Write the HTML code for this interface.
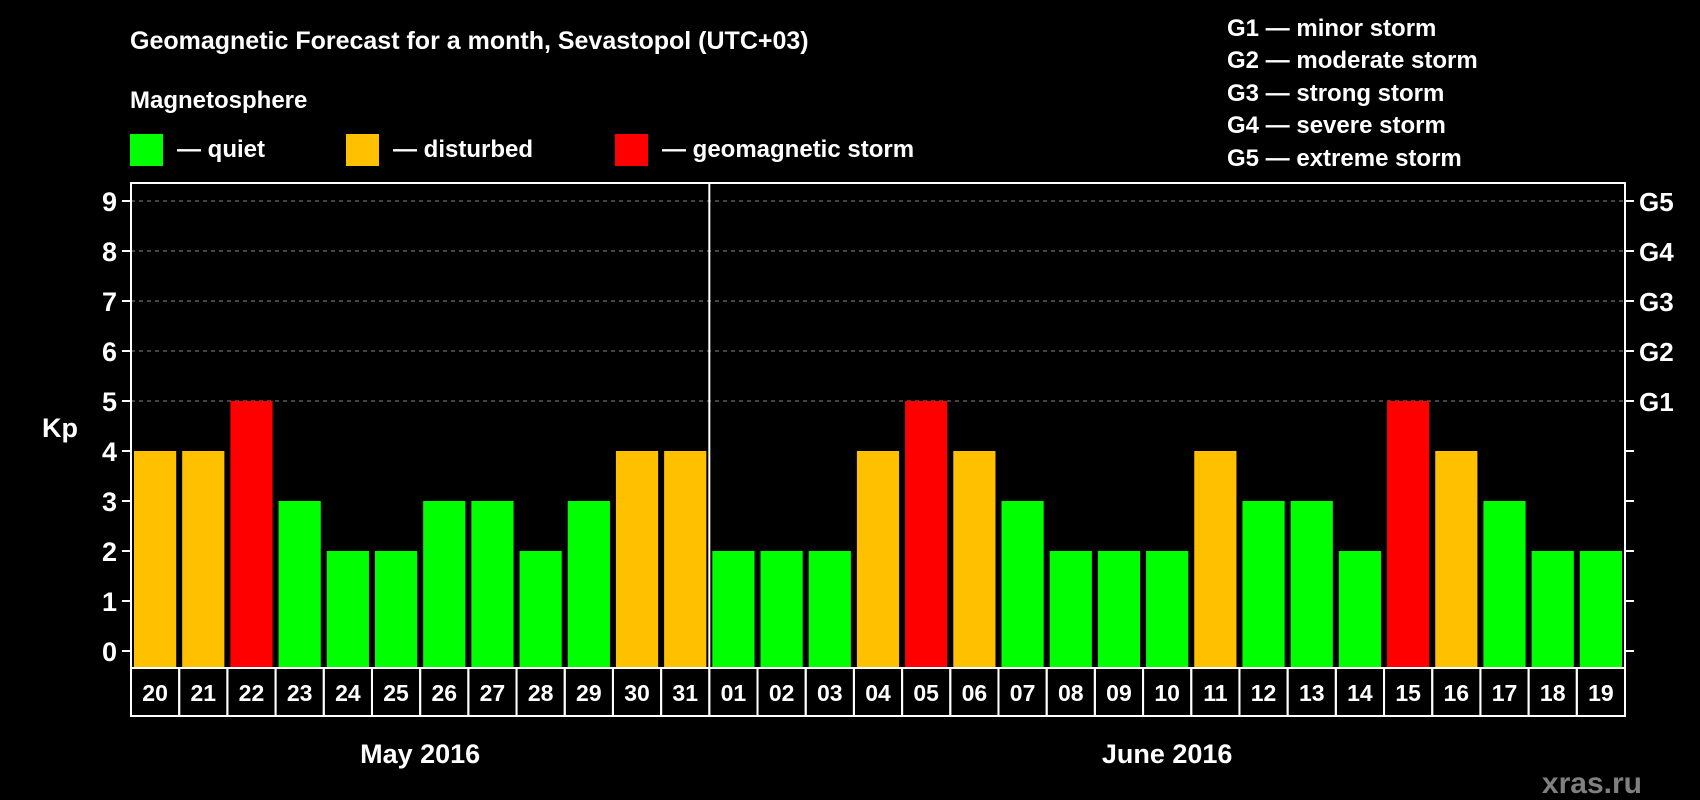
<!DOCTYPE html>
<html><head><meta charset="utf-8"><style>
html,body{margin:0;padding:0;background:#000;width:1700px;height:800px;overflow:hidden}
svg text{font-family:"Liberation Sans",Arial,sans-serif;font-weight:bold;fill:#fff}
</style></head><body>
<svg id="c" width="1700" height="800" xmlns="http://www.w3.org/2000/svg">
<text x="130" y="49" font-size="25">Geomagnetic Forecast for a month, Sevastopol (UTC+03)</text>
<text x="130" y="108" font-size="24">Magnetosphere</text>
<g><rect x="130" y="134" width="33" height="32" fill="#00ff00"/><text x="177" y="157" font-size="24">— quiet</text></g>
<g><rect x="346" y="134" width="33" height="32" fill="#ffc000"/><text x="393" y="157" font-size="24">— disturbed</text></g>
<g><rect x="615" y="134" width="33" height="32" fill="#ff0000"/><text x="662" y="157" font-size="24">— geomagnetic storm</text></g>
<g font-size="24">
<text x="1227" y="36">G1 — minor storm</text>
<text x="1227" y="68">G2 — moderate storm</text>
<text x="1227" y="101">G3 — strong storm</text>
<text x="1227" y="133">G4 — severe storm</text>
<text x="1227" y="166">G5 — extreme storm</text>
</g>
<text x="1642" y="793" font-size="30" fill="#808080" style="fill:#808080" text-anchor="end">xras.ru</text>
<g id="plot"></g>
</svg>
<script>
const days=["20","21","22","23","24","25","26","27","28","29","30","31","01","02","03","04","05","06","07","08","09","10","11","12","13","14","15","16","17","18","19"];
const kp=[4,4,5,3,2,2,3,3,2,3,4,4,2,2,2,4,5,4,3,2,2,2,4,3,3,2,5,4,3,2,2];
const yTicks=[0,1,2,3,4,5,6,7,8,9];
const gLabels=["G1","G2","G3","G4","G5"];
const months=["May 2016","June 2016"];
const monthDays=[12,19];
const L=131,R=1625,T=183,B=668,Y0=651,UNIT=50;
const slot=(R-L)/days.length;
const y=v=>Y0-v*UNIT;
const x=i=>L+i*slot;
const NS="http://www.w3.org/2000/svg";
const g=document.getElementById('plot');
function mk(t,a){const e=document.createElementNS(NS,t);for(const k in a)e.setAttribute(k,a[k]);g.appendChild(e);return e;}
yTicks.forEach(v=>{
  if(v>=5){const l=mk('line',{x1:L,x2:R,y1:y(v),y2:y(v),stroke:'#888','stroke-dasharray':'4,4','stroke-width':1});
  
  }
  const t1=mk('line',{x1:L-9,x2:L,y1:y(v),y2:y(v),stroke:'#fff','stroke-width':2});
  
  
  const t2=mk('line',{x1:R,x2:R+9,y1:y(v),y2:y(v),stroke:'#fff','stroke-width':2});
  
  
  const tx=mk('text',{x:L-14,y:y(v)+10,'font-size':27,'text-anchor':'end'});tx.textContent=v;
  
  
});
gLabels.forEach((s,i)=>{const t=mk('text',{x:R+14,y:y(5+i)+10,'font-size':26});t.textContent=s;
  
  });
const kpT=mk('text',{x:42,y:437,'font-size':27});kpT.textContent='Kp';


kp.forEach((v,i)=>{
  const c=v>=5?'#ff0000':v>=4?'#ffc000':'#00ff00';
  const r=mk('rect',{x:x(i)+3,y:y(v),width:slot-6,height:B-y(v),fill:c});
  
  
  const b=mk('rect',{x:x(i),y:B,width:slot,height:48,fill:'none',stroke:'#fff','stroke-width':2});
  
  
  const t=mk('text',{x:x(i)+slot/2,y:B+33,'font-size':23,'text-anchor':'middle'});t.textContent=days[i];
  
  
});
const fr=mk('rect',{x:L,y:T,width:R-L,height:B-T,fill:'none',stroke:'#fff','stroke-width':2});


const dv=mk('line',{x1:x(monthDays[0]),x2:x(monthDays[0]),y1:T,y2:B,stroke:'#fff','stroke-width':2});


let s=0;
months.forEach((m,i)=>{const c=x(s+monthDays[i]/2);s+=monthDays[i];
  const t=mk('text',{x:c,y:763,'font-size':27,'text-anchor':'middle'});t.textContent=m;
  
  });
</script>
</body></html>
